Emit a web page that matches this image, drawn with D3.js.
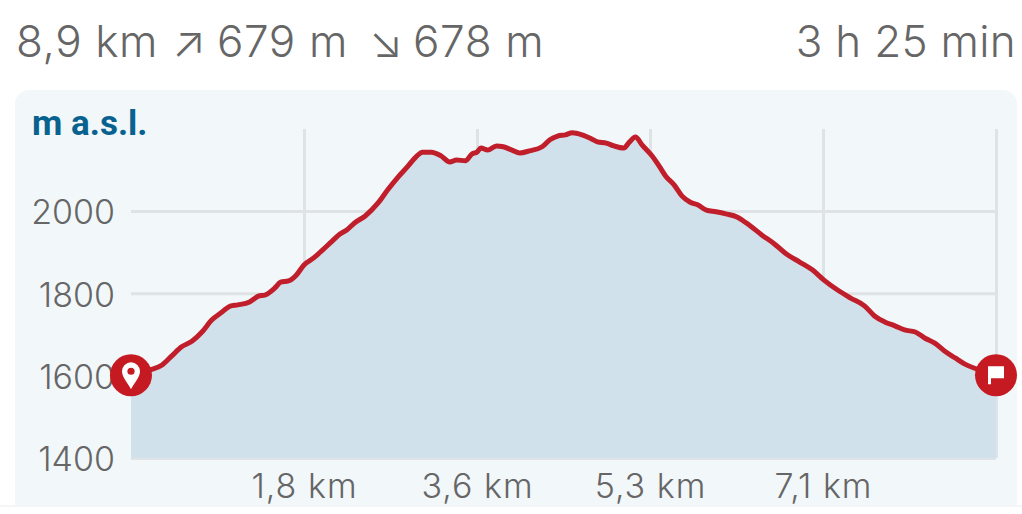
<!DOCTYPE html>
<html>
<head>
<meta charset="utf-8">
<script src="https://cdn.jsdelivr.net/npm/d3@7"></script>
<style>
    html, body { margin: 0; padding: 0; background: #fff; }
    svg { display: block; }
    text { font-family: Inter, "Noto Sans", sans-serif; }
    .head { font-size: 44px; font-weight: 300; fill: #666; }
    .unit { font-family: Roboto, sans-serif; font-size: 35px; font-weight: 700; fill: #08628f; }
    .axis text { font-size: 34px; font-weight: 300; fill: #666; }
    .xaxis text { letter-spacing: 1px; }
    .axis path { display: none; }
    .axis line { stroke: #e0e3e5; stroke-width: 3; }
</style>
</head>
<body>
<div id="chart"></div>
<script>
// distance along the route (km) and altitude (m)
var distances = [0, 0.20, 0.32, 0.42, 0.52, 0.63, 0.73, 0.83, 0.94, 1.02, 1.10, 1.22, 1.31, 1.38, 1.48, 1.54, 1.62, 1.70, 1.78, 1.88,
    1.97, 2.07, 2.15, 2.22, 2.30, 2.41, 2.54, 2.64, 2.75, 2.85, 2.93, 3.00, 3.09, 3.19, 3.28, 3.35, 3.44, 3.51, 3.56, 3.60,
    3.67, 3.76, 3.83, 3.92, 4.00, 4.10, 4.23, 4.31, 4.39, 4.47, 4.54, 4.64, 4.74, 4.80, 4.89, 4.97, 5.07, 5.13, 5.19, 5.26,
    5.36, 5.44, 5.50, 5.59, 5.67, 5.75, 5.83, 5.92, 6.02, 6.12, 6.24, 6.37, 6.49, 6.62, 6.74, 6.88, 7.01, 7.13, 7.27, 7.40,
    7.55, 7.65, 7.76, 7.86, 7.96, 8.07, 8.17, 8.27, 8.37, 8.48, 8.58, 8.68, 8.79, 8.90];
var altitudes = [1601, 1614, 1626, 1648, 1670, 1684, 1706, 1735, 1755, 1769, 1772, 1779, 1793, 1796, 1813, 1827, 1830, 1844, 1869, 1886,
    1905, 1927, 1944, 1954, 1971, 1988, 2019, 2051, 2083, 2109, 2131, 2143, 2143, 2134, 2119, 2124, 2122, 2139, 2143, 2153,
    2148, 2158, 2156, 2148, 2141, 2146, 2156, 2173, 2182, 2185, 2190, 2185, 2175, 2168, 2165, 2158, 2153, 2168, 2180, 2160,
    2134, 2107, 2085, 2063, 2036, 2022, 2015, 2002, 1998, 1993, 1985, 1964, 1942, 1920, 1896, 1876, 1857, 1832, 1808, 1789,
    1769, 1745, 1730, 1721, 1711, 1706, 1691, 1679, 1660, 1643, 1628, 1618, 1611, 1601];

var yTicks = [1400, 1600, 1800, 2000];
var xTicks = [1.78, 3.56, 5.34, 7.12, 8.9];
var xTickLabels = ["1,8 km", "3,6 km", "5,3 km", "7,1 km", ""];

function init() {
    var w = 1022;
    var h = 514;

    var data = distances.map(function(d, i) { return { km: d, alt: altitudes[i] }; });

    var xScale = d3.scaleLinear().domain([0, 8.9]).range([131, 996]);
    var yScale = d3.scaleLinear().domain([1400, 2000]).range([458, 211]);

    var svg = d3.select("#chart").append("svg")
        .attr("width", w)
        .attr("height", h);

    // Header line
    svg.append("text").attr("class", "head").attr("x", 16).attr("y", 57).attr("letter-spacing", 0.6).text("8,9 km");
    svg.append("text").attr("class", "head").attr("x", 172).attr("y", 57).text("↗");
    svg.append("text").attr("class", "head").attr("x", 217).attr("y", 57).attr("letter-spacing", 0.6).text("679 m");
    svg.append("text").attr("class", "head").attr("x", 369).attr("y", 57).text("↘");
    svg.append("text").attr("class", "head").attr("x", 413).attr("y", 57).attr("letter-spacing", 0.6).text("678 m");
    svg.append("text").attr("class", "head").attr("x", 1016).attr("y", 57)
        .attr("text-anchor", "end").attr("letter-spacing", 0.3).text("3 h 25 min");

    // Card, cut off at the bottom like the screenshot
    svg.append("clipPath").attr("id", "cardClip")
        .append("rect").attr("x", 0).attr("y", 0).attr("width", w).attr("height", 505);

    var card = svg.append("g").attr("clip-path", "url(#cardClip)");

    card.append("rect")
        .attr("x", 15).attr("y", 90)
        .attr("width", 1002).attr("height", 440)
        .attr("rx", 14)
        .attr("fill", "#f2f7fa");

    card.append("text").attr("class", "unit").attr("x", 32).attr("y", 135).text("m a.s.l.");

    // Axes with their grid lines
    var yAxis = d3.axisLeft(yScale)
        .tickValues(yTicks)
        .tickSize(-865)
        .tickPadding(16)
        .tickFormat(d3.format("d"));

    var xAxis = d3.axisBottom(xScale)
        .tickValues(xTicks)
        .tickSize(-329)
        .tickPadding(16)
        .tickFormat(function(d, i) { return xTickLabels[i]; });

    card.append("g")
        .attr("class", "axis")
        .attr("transform", "translate(131,0)")
        .call(yAxis)
        .selectAll("text")
        .attr("dy", "0.38em"); // labels sit a little lower than d3's default

    card.append("g")
        .attr("class", "axis xaxis")
        .attr("transform", "translate(0,458)")
        .call(xAxis);

    // Area and line
    var area = d3.area()
        .x(function(d) { return xScale(d.km); })
        .y0(yScale(1400))
        .y1(function(d) { return yScale(d.alt); })
        .curve(d3.curveMonotoneX);

    var line = d3.line()
        .x(function(d) { return xScale(d.km); })
        .y(function(d) { return yScale(d.alt); })
        .curve(d3.curveMonotoneX);

    card.append("path")
        .datum(data)
        .attr("d", area)
        .attr("fill", "#d1e1eb");

    card.append("path")
        .datum(data)
        .attr("d", line)
        .attr("fill", "none")
        .attr("stroke", "#bf1e2a")
        .attr("stroke-width", 5)
        .attr("stroke-linejoin", "round");

    // Start and finish markers
    var first = data[0];
    var last = data[data.length - 1];

    var start = card.append("g")
        .attr("transform", "translate(" + xScale(first.km) + "," + yScale(first.alt) + ")");
    start.append("circle").attr("r", 21).attr("fill", "#c61a23");
    start.append("path")
        .attr("d", "M0,14 C-3,8 -9,2 -9,-4 A9,9 0 1 1 9,-4 C9,2 3,8 0,14 Z")
        .attr("fill", "#fff");
    start.append("circle").attr("cy", -4).attr("r", 3.6).attr("fill", "#c61a23");

    var finish = card.append("g")
        .attr("transform", "translate(" + xScale(last.km) + "," + yScale(last.alt) + ")");
    finish.append("circle").attr("r", 21).attr("fill", "#c61a23");
    finish.append("path")
        .attr("d", "M-8,-9 H8 V3 H-5 V9 H-8 Z")
        .attr("fill", "#fff");

    // Faint shadow under the card
    svg.append("rect")
        .attr("x", 0).attr("y", 505)
        .attr("width", w).attr("height", 2)
        .attr("fill", "#f4f5f6");
}
window.onload = init;
</script>
</body>
</html>
